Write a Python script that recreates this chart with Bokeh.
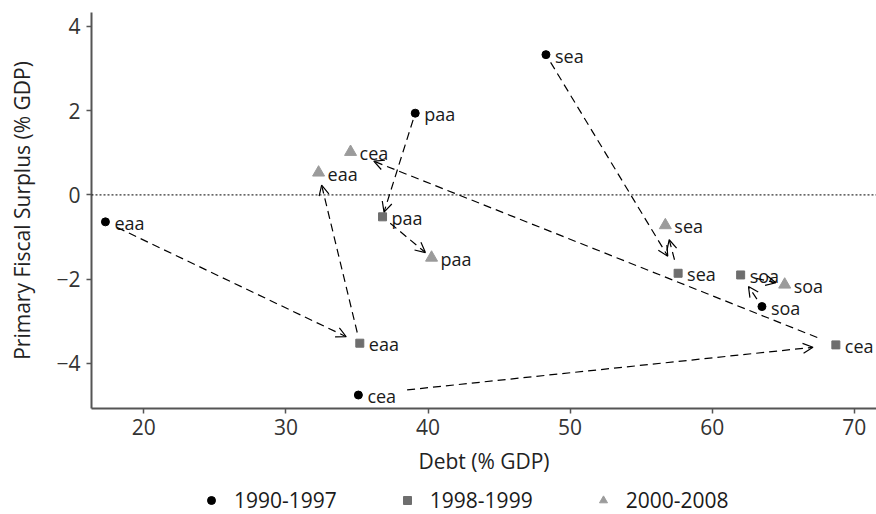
import math
from bokeh.plotting import figure
from bokeh.layouts import column
from bokeh.models import (ColumnDataSource, Arrow, OpenHead, Span, Legend, LegendItem,
                          Range1d, FixedTicker)
from bokeh.embed import file_html
from bokeh.resources import INLINE
from bokeh.core.properties import value

# ---------------- data ----------------
regions = ["eaa", "paa", "sea", "soa", "cea"]
periods = ["1990-1997", "1998-1999", "2000-2008"]
debt_9097 = [17.3, 39.1, 48.3, 63.5, 35.1]
surplus_9097 = [-0.64, 1.94, 3.33, -2.65, -4.75]
debt_9899 = [35.2, 36.8, 57.6, 62.0, 68.7]
surplus_9899 = [-3.52, -0.52, -1.86, -1.90, -3.56]
debt_0008 = [32.3, 40.25, 56.7, 65.1, 34.55]
surplus_0008 = [0.53, -1.49, -0.72, -2.13, 1.02]
x_ticks = [20, 30, 40, 50, 60, 70]
y_ticks = [-4, -2, 0, 2, 4]

# ---------------- style ----------------
FONT = "Open Sans"
X0, X1 = 16.32, 71.56
Y0, Y1 = -5.07, 4.33
W, H = 876, 484
LEG_H = 30
BL, BR, BT, BB = 91, 0, 12, 76
PX_X = (W - BL - BR) / (X1 - X0)
PX_Y = (H - BT - BB) / (Y1 - Y0)
MARKERS = [("circle", 8, "black"), ("square", 8, "#6e6e6e"), ("triangle", 12, "#9b9b9b")]
# arrow gaps in screen px (start, end) for each leg, per region
gaps_leg1 = [(13, 15), (7, 5), (9, 20), (9, 14), (49, 23)]
gaps_leg2 = [(11, 13), (10, 8), (14, 15), (16, 9), (20, 25)]

p = figure(width=W, height=H, x_range=Range1d(X0, X1), y_range=Range1d(Y0, Y1),
           output_backend="svg", toolbar_location=None,
           min_border_left=BL, min_border_right=BR, min_border_top=BT, min_border_bottom=BB)
p.xgrid.visible = False
p.ygrid.visible = False
p.outline_line_color = None

for ax in (p.xaxis[0], p.yaxis[0]):
    ax.axis_line_color = "#555555"
    ax.axis_line_width = 2
    ax.major_tick_line_color = "#555555"
    ax.major_tick_line_width = 1.5
    ax.major_tick_in = 0
    ax.major_tick_out = 5
    ax.minor_tick_line_color = None
    ax.major_label_text_font = FONT
    ax.major_label_text_font_size = "21px"
    ax.major_label_text_color = "#333333"
    ax.axis_label_text_font = FONT
    ax.axis_label_text_font_size = "21px"
    ax.axis_label_text_font_style = "normal"
    ax.axis_label_text_color = "#222222"

p.xaxis.ticker = FixedTicker(ticks=x_ticks)
p.yaxis.ticker = FixedTicker(ticks=y_ticks)
p.yaxis.major_label_overrides = {t: (("\u2212" + str(-t)) if t < 0 else str(t)) for t in y_ticks}
p.xaxis.axis_label = "Debt (% GDP)"
p.yaxis.axis_label = "Primary Fiscal Surplus (% GDP)"
p.xaxis.major_label_standoff = 5
p.yaxis.major_label_standoff = 6
p.xaxis.axis_label_standoff = 9
p.yaxis.axis_label_standoff = 17

p.add_layout(Span(location=0, dimension="width", line_color="black",
                  line_width=1, line_dash="2 2"))


def arrows(xa, ya, xb, yb, gaps):
    xs, ys, xe, ye = [], [], [], []
    for x0, y0, x1, y1, (g0, g1) in zip(xa, ya, xb, yb, gaps):
        dx = (x1 - x0) * PX_X
        dy = (y1 - y0) * PX_Y
        L = math.hypot(dx, dy)
        ux, uy = dx / L, dy / L
        xs.append(x0 + ux * g0 / PX_X)
        ys.append(y0 + uy * g0 / PX_Y)
        xe.append(x1 - ux * g1 / PX_X)
        ye.append(y1 - uy * g1 / PX_Y)
    return ColumnDataSource(dict(xs=xs, ys=ys, xe=xe, ye=ye))


for src in (arrows(debt_9097, surplus_9097, debt_9899, surplus_9899, gaps_leg1),
            arrows(debt_9899, surplus_9899, debt_0008, surplus_0008, gaps_leg2)):
    p.add_layout(Arrow(x_start="xs", y_start="ys", x_end="xe", y_end="ye", source=src,
                       line_color="black", line_width=1.2, line_dash="8 5",
                       end=OpenHead(size=10, line_width=1.2, line_color="black")))

series = [(debt_9097, surplus_9097), (debt_9899, surplus_9899), (debt_0008, surplus_0008)]
for (xs_, ys_), (mk, sz, col) in zip(series, MARKERS):
    p.scatter(xs_, ys_, marker=mk, size=sz, color=col)
    p.text(xs_, ys_, text=regions, x_offset=9, y_offset=1, text_baseline="middle",
           text_font=value(FONT), text_font_size="18px", text_color="#1a1a1a")

# legend strip below the plot
lg = figure(width=W, height=LEG_H, x_range=Range1d(0, 1), y_range=Range1d(0, 1),
            output_backend="svg", toolbar_location=None,
            x_axis_location=None, y_axis_location=None,
            min_border_left=0, min_border_right=0, min_border_top=0, min_border_bottom=0)
lg.xgrid.visible = False
lg.ygrid.visible = False
lg.outline_line_color = None
items = []
for label, (mk, sz, col) in zip(periods, MARKERS):
    r = lg.scatter(x=[float("nan")], y=[float("nan")], marker=mk, size=sz, color=col)
    items.append(LegendItem(label=label, renderers=[r]))
legend = Legend(items=items, orientation="horizontal", location=(110, 0),
                border_line_color=None, background_fill_alpha=0,
                padding=0, margin=0, spacing=60, label_standoff=13, glyph_width=20,
                label_text_font=FONT, label_text_font_size="21px",
                label_text_color="#1a1a1a")
lg.add_layout(legend, "center")

layout = column(p, lg, spacing=0)
open("out.html", "w").write(file_html(layout, INLINE))
